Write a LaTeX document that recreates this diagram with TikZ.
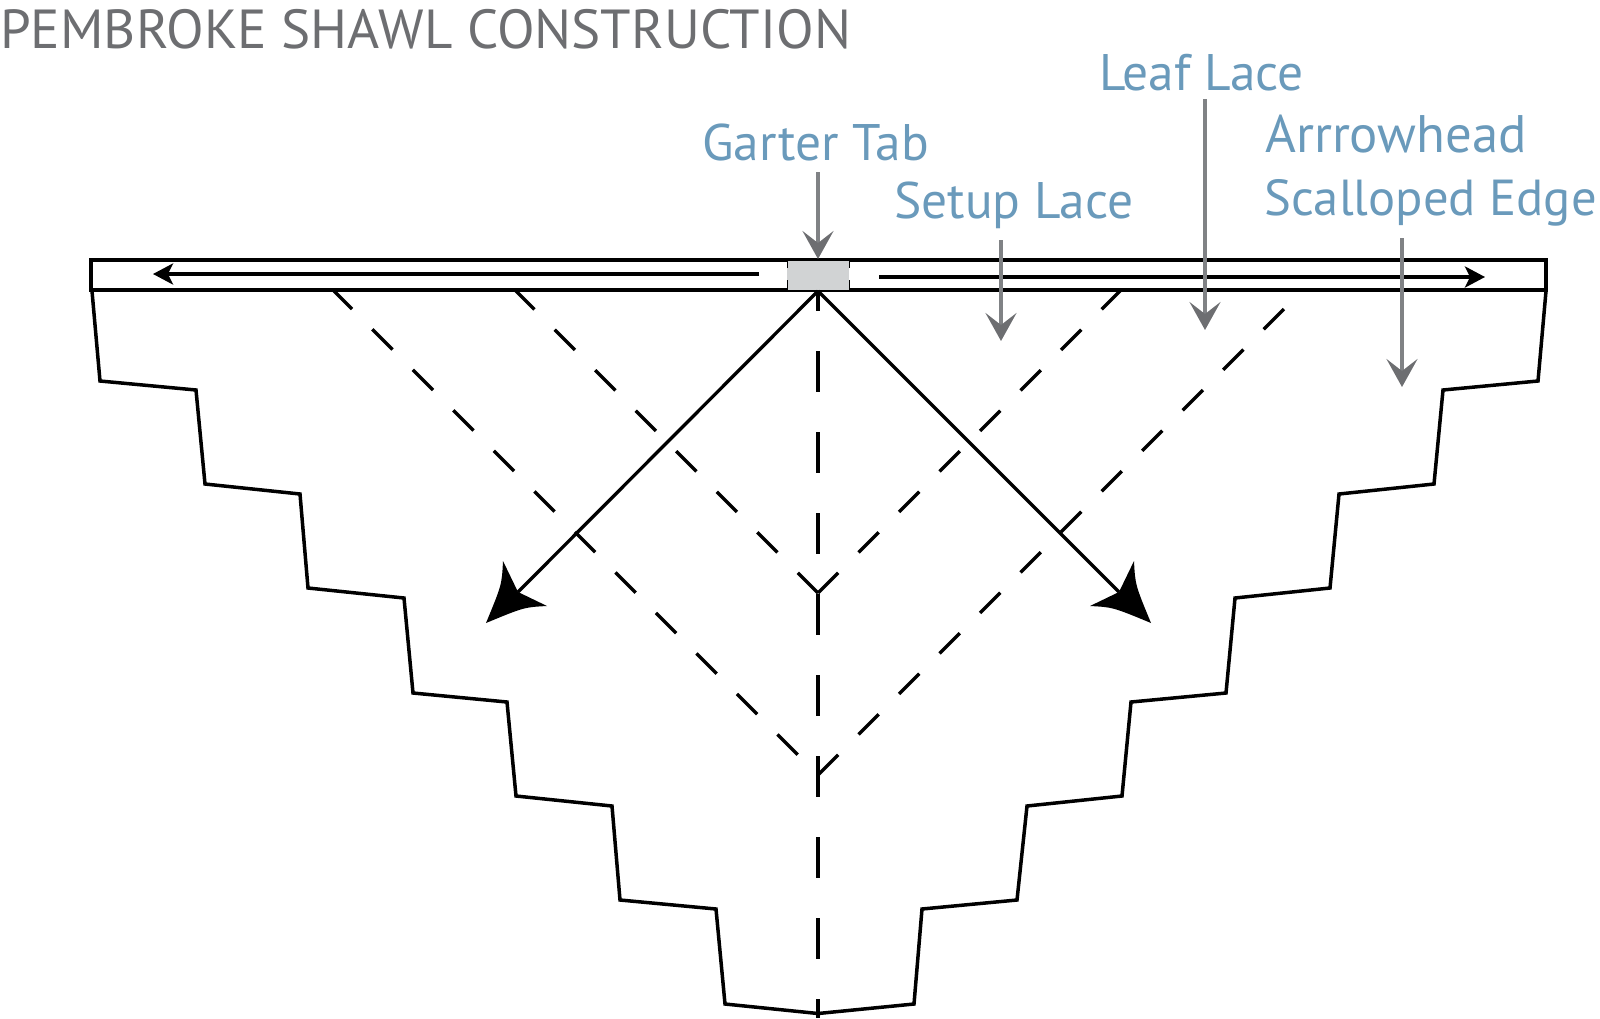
\documentclass[tikz,border=0pt]{standalone}
\usepackage{fontspec}
\setmainfont{PT Sans}
\usetikzlibrary{arrows.meta}
\definecolor{labelblue}{HTML}{6A9ABB}
\definecolor{titlegray}{HTML}{6D6E71}
\definecolor{leadgray}{HTML}{808285}
\definecolor{tabgray}{HTML}{D1D3D4}
\tikzset{
  titletext/.style={anchor=base west,inner sep=0pt,text=titlegray,font=\fontsize{55.2}{60}\selectfont},
  labeltext/.style={anchor=base west,inner sep=0pt,text=labelblue,font=\fontsize{51.6}{60}\selectfont},
  outline/.style={draw=black,line width=3.5bp,line join=miter},
  foldline/.style={black,line width=3.3bp,dash pattern=on 28.6bp off 28.7bp},
  foldgap/.style={foldline,dash phase=28.6bp},
  centerline/.style={black,line width=3.3bp,dash pattern=on 41bp off 40bp,dash phase=21bp},
  solidline/.style={black,line width=3.3bp},
  leader/.style={leadgray,line width=3.2bp,-{Stealth[length=28bp,width=31bp,inset=12bp,color=titlegray]}},
  knitarrow/.style={black,line width=3.3bp,-{Stealth[length=20bp,width=21bp,inset=5bp]}},
  bighead/.style={fill=black,draw=none},
}
\begin{document}
\begin{tikzpicture}[x=1bp,y=-1bp]
\useasboundingbox (0,0) rectangle (1600,1018);
% shawl outline
\draw[outline] (92,291) -- (100,381) -- (196,390) -- (205,484) -- (300,494) -- (308,588)
  -- (404,598) -- (413,693) -- (507,702) -- (516,796) -- (612,806) -- (620,900)
  -- (716,909) -- (725,1004) -- (818,1013.5) -- (914,1004) -- (922,909) -- (1017,900)
  -- (1027,806) -- (1122,796) -- (1131,702) -- (1226,693) -- (1235,598) -- (1330,588)
  -- (1339,494) -- (1434,484) -- (1443,390) -- (1538,381) -- (1546,291);
% named points
\coordinate (neck) at (818,291);
\coordinate (inner) at (818,593);
\coordinate (outer) at (818,775);
\coordinate (spineend) at (818,1018);
\coordinate (innerL) at (514,289);
\coordinate (innerR) at (1122,289);
\coordinate (outerL) at (334,291);
\coordinate (outerR) at (1285,308);
\coordinate (notchL) at (518,592);
\coordinate (notchR) at (1119,592);
% fold lines
\draw[centerline] (neck) -- (spineend);
\draw[foldline] (inner) -- (innerL);
\draw[foldline] (inner) -- (innerR);
\draw[foldgap] (outer) -- (outerL);
\draw[foldline] (outer) -- (outerR);
% garter strip
\draw[outline,fill=white] (91,260) rectangle (1546,290);
\node[fill=tabgray,minimum width=62bp,minimum height=31bp,inner sep=0pt,outer sep=0pt] (tab) at (818,275.5) {};
\draw[black,line width=1bp] (tab.north west) -- ++(0,8) (tab.south west) -- ++(0,-11)
  (tab.north east) -- ++(0,8) (tab.south east) -- ++(0,-11);
\draw[black,line width=1.2bp] (tab.north west) -- (tab.north east) (tab.south west) -- (tab.south east);
\coordinate (stripLfrom) at (759,274);
\coordinate (stripLto) at (153,274);
\coordinate (stripRfrom) at (879,277);
\coordinate (stripRto) at (1485,277);
\draw[knitarrow] (stripLfrom) -- (stripLto);
\draw[knitarrow] (stripRfrom) -- (stripRto);
% main arrows
\draw[solidline] (neck) -- (notchL);
\draw[solidline] (neck) -- (notchR);
\fill[bighead] (486,623) .. controls (501.8,584.8) .. (503,561) -- (notchL) -- (547,606) .. controls (524.2,607.2) .. cycle;
\fill[bighead] (1151,623) .. controls (1135.2,584.8) .. (1134,561) -- (notchR) -- (1090,606) .. controls (1112.8,607.2) .. cycle;
% texts
\node[titletext] (title) at (0,48) {PEMBROKE SHAWL CONSTRUCTION};
\node[labeltext] (garter) at (702,160) {Garter Tab};
\node[labeltext] (setup) at (894,218) {Setup Lace};
\node[labeltext] (leaf) at (1099,90) {Leaf Lace};
\node[labeltext,font=\fontsize{53}{60}\selectfont] (arrow) at (1265,152) {Arrrowhead};
\node[labeltext,font=\fontsize{50.8}{60}\selectfont] (scallop) at (1264,215) {Scalloped Edge};
% leaders
\coordinate (gA) at (818,172); \coordinate (gB) at (818,259);
\coordinate (sA) at (1001,240); \coordinate (sB) at (1001,341);
\coordinate (lA) at (1205,99); \coordinate (lB) at (1205,330);
\coordinate (aA) at (1402,238); \coordinate (aB) at (1402,387);
\draw[leader] (gA) -- (gB);
\draw[leader] (sA) -- (sB);
\draw[leader] (lA) -- (lB);
\draw[leader] (aA) -- (aB);
\end{tikzpicture}
\end{document}
